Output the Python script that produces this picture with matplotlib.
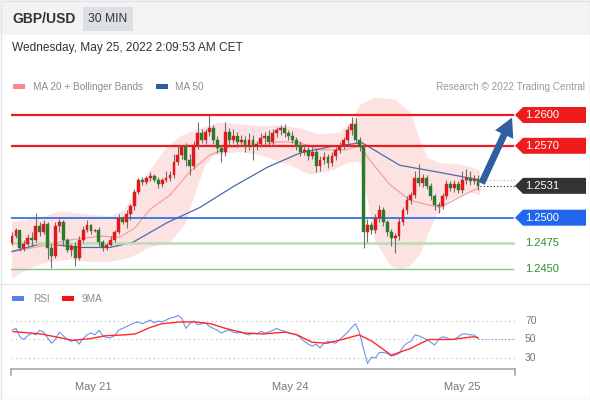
import matplotlib
matplotlib.use('Agg')
import matplotlib.pyplot as plt
from matplotlib.patches import Rectangle, Polygon, FancyArrowPatch
import numpy as np

plt.rcParams['font.family'] = ['Liberation Sans', 'DejaVu Sans']

# ---- data (30 min candles) ----
first_open = 1.2475
closes = [1.2482, 1.2488, 1.2470, 1.2474, 1.2480, 1.2478, 1.2492, 1.2486, 1.2494, 1.2470,
          1.2463, 1.2492, 1.2496, 1.2478, 1.2469, 1.2472, 1.2461, 1.2478, 1.2488, 1.2493,
          1.2487, 1.2488, 1.2476, 1.2470, 1.2473, 1.2478, 1.2486, 1.2500, 1.2496, 1.2504,
          1.2511, 1.2525, 1.2537, 1.2535, 1.2539, 1.2541, 1.2537, 1.2533, 1.2537, 1.2539,
          1.2542, 1.2554, 1.2561, 1.2569, 1.2556, 1.2550, 1.2571, 1.2582, 1.2576, 1.2583,
          1.2587, 1.2576, 1.2568, 1.2564, 1.2583, 1.2576, 1.2580, 1.2574, 1.2576, 1.2570,
          1.2576, 1.2570, 1.2572, 1.2578, 1.2580, 1.2574, 1.2582, 1.2585, 1.2587, 1.2582,
          1.2580, 1.2576, 1.2571, 1.2564, 1.2566, 1.2560, 1.2564, 1.2550, 1.2556, 1.2559,
          1.2553, 1.2560, 1.2566, 1.2570, 1.2576, 1.2585, 1.2591, 1.2576, 1.2569, 1.2486,
          1.2493, 1.2488, 1.2500, 1.2507, 1.2496, 1.2486, 1.2480, 1.2482, 1.2496, 1.2507,
          1.2517, 1.2522, 1.2539, 1.2534, 1.2539, 1.2531, 1.2521, 1.2512, 1.2511, 1.2521,
          1.2533, 1.2529, 1.2533, 1.2527, 1.2537, 1.2539, 1.2536, 1.2538, 1.2531]
# wick lengths above / below the body, in pips
up_wick = [4, 2, 0, 4, 4, 6, 13, 4, 4, 2, 4, 4, 3, 2, 2, 2, 4, 4, 4, 5,
           1, 1, 3, 2, 2, 4, 2, 4, 2, 3, 2, 3, 2, 3, 2, 3, 2, 3, 2, 6,
           3, 8, 10, 2, 4, 6, 4, 11, 4, 3, 13, 3, 4, 3, 10, 4, 6, 3, 5, 4,
           6, 5, 3, 4, 3, 5, 4, 3, 3, 4, 3, 4, 3, 4, 6, 3, 5, 3, 4, 5,
           3, 4, 3, 4, 3, 4, 7, 6, 3, 2, 6, 3, 4, 5, 3, 2, 3, 3, 4, 3,
           4, 3, 6, 13, 4, 3, 3, 2, 3, 3, 4, 3, 4, 3, 8, 8, 6, 4, 4]
down_wick = [2, 2, 2, 2, 2, 6, 2, 4, 2, 10, 12, 2, 6, 6, 2, 6, 8, 2, 2, 2,
             3, 1, 4, 2, 1, 1, 2, 2, 2, 6, 6, 4, 2, 3, 2, 3, 2, 4, 3, 2,
             3, 3, 3, 4, 6, 8, 3, 4, 3, 4, 3, 4, 5, 10, 4, 6, 3, 5, 4, 6,
             4, 14, 4, 3, 6, 3, 4, 3, 4, 3, 4, 3, 5, 4, 3, 4, 3, 6, 5, 4,
             5, 3, 4, 3, 3, 3, 4, 3, 4, 16, 10, 4, 3, 4, 4, 4, 8, 14, 4, 3,
             3, 4, 3, 3, 4, 3, 4, 5, 6, 3, 3, 3, 4, 3, 3, 4, 4, 3, 4]

# Bollinger band edges and moving averages (sampled along the candle index)
upper_idx = [0, 7.1, 12.2, 19.7, 24.8, 28.6, 32.4, 34.9, 38.7, 42.5, 47.6, 52.7, 57.7, 62.8, 67.8,
             72.9, 78.0, 83.0, 86.1, 88.1, 91.9, 97.0, 100.8, 103.3, 105.3, 108.4, 113.4, 117.2, 118.5]
upper_val = [1.2496, 1.2500, 1.2506, 1.2503, 1.2501, 1.2508, 1.2532, 1.2546, 1.2566, 1.2579, 1.2587,
             1.2593, 1.2591, 1.2589, 1.2590, 1.2587, 1.2581, 1.2583, 1.2593, 1.2610, 1.2617, 1.2615,
             1.2603, 1.2576, 1.2558, 1.2553, 1.2552, 1.2548, 1.2545]
lower_idx = [0, 4.6, 9.6, 14.7, 19.7, 24.8, 29.9, 34.9, 40.0, 43.8, 46.3, 48.9, 51.4, 57.7, 62.8,
             70.4, 75.4, 80.5, 85.6, 88.1, 89.6, 91.9, 95.7, 98.2, 100.8, 103.3, 107.1, 110.9, 115.9, 118.5]
lower_val = [1.2441, 1.2451, 1.2457, 1.2459, 1.2457, 1.2457, 1.2461, 1.2471, 1.2476, 1.2493, 1.2522,
             1.2551, 1.2561, 1.2564, 1.2561, 1.2551, 1.2542, 1.2545, 1.2554, 1.2554, 1.2527, 1.2478,
             1.2454, 1.2449, 1.2453, 1.2464, 1.2500, 1.2517, 1.2525, 1.2522]
ma20_idx = [0, 7.1, 13.9, 22.3, 27.3, 31.1, 34.9, 40.0, 45.1, 50.1, 55.2, 62.8, 67.8, 72.9, 78.0,
            84.3, 88.1, 90.6, 95.7, 100.8, 105.8, 108.4, 113.4, 118]
ma20_val = [1.2467, 1.2472, 1.2478, 1.2482, 1.2481, 1.2490, 1.2508, 1.2522, 1.2545, 1.2561, 1.2569,
            1.2570, 1.2574, 1.2573, 1.2566, 1.2566, 1.2570, 1.2556, 1.2532, 1.2517, 1.2512, 1.2510,
            1.2520, 1.2529]
ma50_idx = [0, 7.8, 17.2, 24.8, 30.6, 39.2, 47.6, 55.9, 64.6, 72.9, 80.5, 88.6, 98.2, 108.4, 118]
ma50_val = [1.2467, 1.2475, 1.2471, 1.2471, 1.2476, 1.2495, 1.2510, 1.2530, 1.2549, 1.2563,
            1.2569, 1.2573, 1.2551, 1.2544, 1.2537]

resistances = [1.2600, 1.2570]
pivot = 1.2500
supports = [1.2475, 1.2450]
last_price = 1.2531
target = 1.2600

rsi = [60, 62, 53, 50, 54, 57, 55, 60, 58, 52, 46, 50, 58, 54, 50, 48, 50, 45, 51, 55,
       57, 55, 60, 54, 52, 52, 54, 60, 62, 64, 66, 68, 69, 67, 69, 71, 68, 70, 69, 71,
       73, 74, 76, 73, 62, 67, 70, 66, 67, 68, 64, 62, 60, 57, 59, 60, 58, 57, 58, 56,
       55, 57, 56, 59, 57, 58, 60, 62, 60, 59, 57, 56, 55, 52, 48, 45, 43, 45, 41, 46,
       48, 47, 46, 50, 54, 58, 63, 67, 57, 40, 24, 31, 30, 36, 36, 35, 32, 33, 35, 42,
       46, 48, 55, 54, 52, 50, 47, 44, 50, 53, 52, 50, 50, 53, 56, 56, 55, 55, 51]
ma9_idx = [0.3, 7.4, 15.5, 19.8, 23.6, 28.4, 31.2, 35, 37.9, 42.6, 46.5, 50.3, 54.1, 58.8,
           63.6, 69.3, 72.2, 76, 79.8, 83.6, 87.9, 91.2, 96, 100.7, 105.5, 111.2, 116.9, 118]
ma9_val = [58.5, 56, 49, 51, 54, 55, 56, 63, 67, 69, 69, 67, 62, 57, 56, 58, 55, 47, 46, 50,
           55, 48, 33, 40, 50, 50, 53, 52]
rsi_levels = [30, 50, 70]

date_pos = [20.5, 70.4, 113.9]
date_labels = ['May 21', 'May 24', 'May 25']

pip = 0.0001
RED = '#ee1c1c'
BLUE = '#2266ee'

fig = plt.figure(figsize=(5.9, 4.0), dpi=100)

# overlay in pixel units for the frame / header decorations
ov = fig.add_axes([0, 0, 1, 1])
ov.set_xlim(0, 590)
ov.set_ylim(400, 0)
ov.axis('off')
ov.add_patch(Rectangle((0, 0), 590, 35, color='#f3f3f3', lw=0))
ov.add_patch(Rectangle((0.5, 0.5), 589, 399, fill=False, ec='#e4e4e4', lw=1))
ov.plot([0, 590], [283.5, 283.5], color='#e8e8e8', lw=1)
ov.text(12, 19, 'GBP/USD', fontsize=10, fontweight='bold', color='#333333', va='center')
ov.add_patch(Rectangle((83, 7), 50, 24, color='#dcdfe4', lw=0))
ov.text(108, 19.5, '30 MIN', fontsize=8.7, color='#333333', va='center', ha='center')
ov.text(12, 48, 'Wednesday, May 25, 2022 2:09:53 AM CET', fontsize=8.6, color='#333333', va='center')

legend_grey = '#8c8c8c'
ov.add_patch(Rectangle((13, 84), 12, 5, color='#f58a8a', lw=0))
ov.text(33, 86.5, 'MA 20 + Bollinger Bands', fontsize=7.2, color=legend_grey, va='center')
ov.add_patch(Rectangle((156, 84), 12, 5, color='#2f5f9e', lw=0))
ov.text(175, 86.5, 'MA 50', fontsize=7.2, color=legend_grey, va='center')
ov.text(585, 86.5, 'Research \u00a9 2022 Trading Central', fontsize=7.2, color='#9a9a9a',
        va='center', ha='right')
ov.add_patch(Rectangle((12, 296), 12, 5, color='#5b80e6', lw=0))
ov.text(33, 298.5, 'RSI', fontsize=7.2, color=legend_grey, va='center')
ov.add_patch(Rectangle((62, 296), 12, 5, color='#ff1010', lw=0))
ov.text(82, 298.5, '9MA', fontsize=7.2, color=legend_grey, va='center')

# ---- price panel ----
xlim = (-0.25, 127.35)
ax = fig.add_axes([11 / 590, 1 - 280 / 400, 504 / 590, 188 / 400])
ax.set_xlim(*xlim)
ax.set_ylim(1.24393, 1.26224)
ax.axis('off')

band_x = upper_idx + lower_idx[::-1]
band_y = upper_val + lower_val[::-1]
ax.fill(band_x, band_y, color='#fde2e2', lw=0, zorder=1)
ax.plot(ma20_idx, ma20_val, color='#f7a0a0', lw=0.9, zorder=2)
ax.plot(ma50_idx, ma50_val, color='#4a6bb0', lw=0.9, zorder=2)

line_end = (513 - 11) / 504
for r in resistances:
    ax.axhline(r, xmax=line_end, color=RED, lw=1.6, zorder=2)
ax.axhline(pivot, xmax=line_end, color=BLUE, lw=1.2, zorder=2)
ax.axhline(supports[0], xmax=line_end, color='#b9dcb4', lw=1.8, zorder=2)
ax.axhline(supports[1], xmax=line_end, color='#8cc488', lw=1.0, zorder=2)

# candles
x = np.arange(len(closes))
c = np.array(closes)
o = np.array([first_open] + closes[:-1])
top = np.maximum(o, c)
bot = np.minimum(o, c)
hi = top + np.array(up_wick) * pip
lo = bot - np.array(down_wick) * pip
cols = np.where(c >= o, '#e3171c', '#2b7a2b')
ax.vlines(x, lo, hi, color='#6e6e6e', lw=0.8, zorder=3)
ax.bar(x, np.maximum(top - bot, 0.00012), bottom=bot, width=0.72, color=cols,
       edgecolor=cols, lw=0.3, zorder=4)

# last price / MA50 extensions
ax.plot([x[-1] + 0.5, xlim[1]], [last_price, last_price], color='#222222', lw=0.8,
        ls=(0, (1, 2)), zorder=2)
ax.plot([x[-1] + 0.5, xlim[1]], [ma50_val[-1], ma50_val[-1]], color='#9fb2d6', lw=0.8,
        ls=(0, (1, 2)), zorder=2)

# forecast arrow
arrow = FancyArrowPatch((x[-1] + 0.6, last_price), (126.9, target),
                        arrowstyle='simple,head_width=1.6,head_length=1.5,tail_width=0.55',
                        mutation_scale=9, color='#2f5f9e', lw=0, zorder=6, clip_on=False)
ax.add_patch(arrow)

# value tags on the right
ytr = ax.get_yaxis_transform()
half = 8 * (ax.get_ylim()[1] - ax.get_ylim()[0]) / 188
tx0, tx1, tx2 = 1.0, 1.0 + 8 / 504, (586 - 11) / 504
text_x = (525 - 11) / 504
for val, col in [(resistances[0], RED), (resistances[1], RED), (last_price, '#333333'), (pivot, BLUE)]:
    ax.add_patch(Polygon([(tx0, val), (tx1, val + half), (tx2, val + half), (tx2, val - half),
                          (tx1, val - half)], closed=True, transform=ytr, color=col, lw=0,
                         clip_on=False, zorder=5))
    ax.text(text_x, val, f'{val:.4f}', transform=ytr, color='white', fontsize=8,
            va='center', ha='left', zorder=6, clip_on=False)
for s in supports:
    ax.text(text_x, s, f'{s:.4f}', transform=ytr, color='#2e8f2e', fontsize=8,
            va='center', ha='left', clip_on=False)

# ---- RSI panel ----
rx = fig.add_axes([11 / 590, 1 - 369 / 400, 504 / 590, 64 / 400])
rx.set_xlim(*xlim)
rx.set_ylim(18.1, 87.3)
rx.patch.set_alpha(0)
for side in ['top', 'left', 'right']:
    rx.spines[side].set_visible(False)
rx.spines['bottom'].set_color('#a8a8a8')
rx.spines['bottom'].set_linewidth(1.2)
rx.set_yticks([])
rx.set_xticks(date_pos)
rx.set_xticklabels(date_labels, fontsize=8, color='#777777')
rx.tick_params(axis='x', length=0, pad=9)
for lv in rsi_levels:
    rx.axhline(lv, color='#bdbdbd', lw=0.8, ls=(0, (1, 3)), zorder=1)
    rx.text(text_x, lv, str(lv), transform=rx.get_yaxis_transform(), fontsize=7.5,
            color='#777777', va='center', ha='left', clip_on=False)
rx.plot([0, 0], [0, -0.1], transform=rx.transAxes, color='#a8a8a8', lw=1.2, clip_on=False)
rx.plot([1, 1], [0, -0.1], transform=rx.transAxes, color='#a8a8a8', lw=1.2, clip_on=False)
rx.plot(x, rsi, color='#7092ea', lw=0.8, zorder=3)
rx.plot(ma9_idx, ma9_val, color='#ff2a2a', lw=1.0, zorder=4)
rx.plot([x[-1], xlim[1]], [rsi[-1], rsi[-1]], color='#7092ea', lw=0.8, ls=(0, (1, 2)), zorder=3)

fig.savefig('out.png', dpi=100)
